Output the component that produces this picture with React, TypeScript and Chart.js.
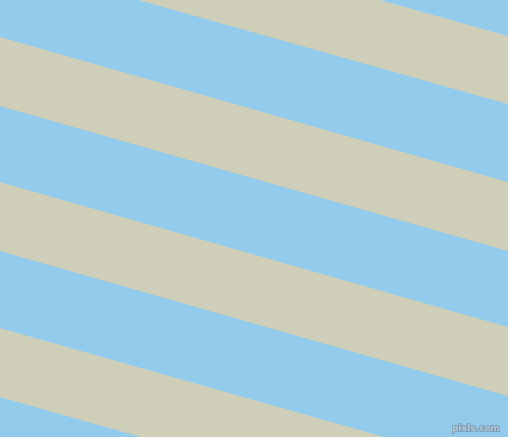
import { useEffect, useRef } from 'react';
import Chart from 'chart.js/auto';

// stripe boundaries, in pixels from the top, read at the left (x=0) and right (x=508) edges
const edgeX = [0, 508];
const leftTop = [-107, 37, 182, 328];
const leftBottom = [-39, 106, 251, 397];
const rightTop = [36, 182, 327, 472];
const rightBottom = [104, 251, 396, 541];

const BLUE = '#92cbeb';
const BEIGE = '#cfcfb9';

const watermark = {
  id: 'watermark',
  afterDraw(chart: Chart) {
    const { ctx } = chart;
    ctx.save();
    ctx.font = 'bold 9px "DejaVu Sans", sans-serif';
    ctx.textAlign = 'right';
    ctx.textBaseline = 'alphabetic';
    ctx.lineWidth = 1.5;
    ctx.strokeStyle = '#7496ae';
    ctx.strokeText('pixls.com', 500, 431);
    ctx.fillStyle = '#b4c8d6';
    ctx.fillText('pixls.com', 500, 431);
    ctx.restore();
  },
};

const App = () => {
  const chartRef = useRef<HTMLCanvasElement>(null);
  const chartInstance = useRef<Chart | null>(null);

  useEffect(() => {
    if (chartRef.current) {
      if (chartInstance.current) {
        chartInstance.current.destroy();
      }

      const datasets: any[] = [];
      leftTop.forEach((_, i) => {
        datasets.push({
          data: [
            { x: edgeX[0], y: leftTop[i] },
            { x: edgeX[1], y: rightTop[i] },
          ],
          borderWidth: 0,
          pointRadius: 0,
          fill: false,
        });
        datasets.push({
          data: [
            { x: edgeX[0], y: leftBottom[i] },
            { x: edgeX[1], y: rightBottom[i] },
          ],
          borderWidth: 0,
          pointRadius: 0,
          backgroundColor: BEIGE,
          fill: '-1',
        });
      });

      chartInstance.current = new Chart(chartRef.current, {
        type: 'line',
        data: { datasets },
        options: {
          responsive: false,
          animation: false,
          layout: { padding: 0 },
          plugins: {
            legend: { display: false },
            tooltip: { enabled: false },
            filler: { propagate: false },
          },
          scales: {
            x: { type: 'linear', min: 0, max: 508, display: false },
            y: { type: 'linear', min: 0, max: 437, reverse: true, display: false },
          },
        },
        plugins: [watermark],
      });
    }

    return () => {
      if (chartInstance.current) {
        chartInstance.current.destroy();
      }
    };
  }, []);

  return (
    <div style={{ position: 'fixed', left: 0, top: 0, width: 508, height: 437, background: BLUE }}>
      <canvas ref={chartRef} width={508} height={437} style={{ display: 'block' }} />
    </div>
  );
};

export default App;
